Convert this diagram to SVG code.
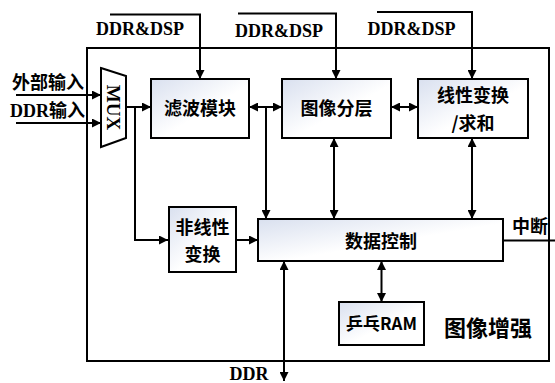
<svg xmlns="http://www.w3.org/2000/svg" width="555" height="383" viewBox="0 0 555 383">
<style>
.box{fill:url(#g);stroke:#000;stroke-width:2}
.sh{fill:#c8c8c8}
.ln{fill:none;stroke:#000;stroke-width:2}
.cn{font-family:"Noto Sans CJK SC","Noto Sans",sans-serif;font-weight:bold;font-size:18px;fill:#000}
.sf{font-family:"Liberation Serif","Noto Sans CJK SC",serif;font-weight:bold;font-size:18px;fill:#000}
.mid{text-anchor:middle}
</style>
<defs>
<linearGradient id="g" x1="0" y1="0" x2="1" y2="1">
<stop offset="0" stop-color="#d9e0ef"/>
<stop offset="0.55" stop-color="#ffffff"/>
<stop offset="1" stop-color="#ffffff"/>
</linearGradient>
<marker id="a" viewBox="0 0 10 10" refX="10" refY="5" markerWidth="4.5" markerHeight="4.5" orient="auto-start-reverse" markerUnits="strokeWidth">
<path d="M0,0 L10,5 L0,10 z" fill="#000"/>
</marker>
</defs>
<rect x="0" y="0" width="555" height="383" fill="#fff"/>
<g id="frame">
<rect x="87" y="48" width="462" height="313" class="ln"/>
<text x="488" y="336" class="cn mid" style="font-size:22px">图像增强</text>
</g>
<g id="connectors">
<path d="M110,14.5 H200 V79" class="ln" marker-end="url(#a)"/>
<path d="M238,13.5 H336 V79" class="ln" marker-end="url(#a)"/>
<path d="M377,12 H472 V79" class="ln" marker-end="url(#a)"/>
<path d="M16,95 H101" class="ln" marker-end="url(#a)"/>
<path d="M16,123 H101" class="ln" marker-end="url(#a)"/>
<path d="M126,107 H151" class="ln" marker-end="url(#a)"/>
<path d="M135,107 V240 H168" class="ln" marker-end="url(#a)"/>
<path d="M236,240 H258" class="ln" marker-end="url(#a)"/>
<path d="M249,107 H282" class="ln" marker-start="url(#a)" marker-end="url(#a)"/>
<path d="M266,107 V219" class="ln" marker-end="url(#a)"/>
<path d="M391,107 H418" class="ln" marker-start="url(#a)" marker-end="url(#a)"/>
<path d="M334,138 V219" class="ln" marker-start="url(#a)" marker-end="url(#a)"/>
<path d="M472,138 V219" class="ln" marker-start="url(#a)" marker-end="url(#a)"/>
<path d="M381.5,261 V302" class="ln" marker-start="url(#a)" marker-end="url(#a)"/>
<path d="M284,261 V381" class="ln" marker-start="url(#a)" marker-end="url(#a)"/>
<path d="M503,240.5 H555" class="ln"/>
<text x="140" y="35" class="sf mid">DDR&amp;DSP</text>
<text x="279" y="37" class="sf mid">DDR&amp;DSP</text>
<text x="411.5" y="35" class="sf mid">DDR&amp;DSP</text>
<text x="12" y="89" class="cn">外部输入</text>
<text x="10" y="117" class="sf">DDR<tspan class="cn">输入</tspan></text>
<text x="530" y="233" class="cn mid">中断</text>
<text x="249" y="380" class="sf mid">DDR</text>
</g>
<g id="mux">
<polygon points="101,68 126,76 126,138 101,147" class="ln" style="fill:#fff"/>
<text transform="translate(113.5,107.5) rotate(90)" class="sf mid" style="font-size:19px" dy="6.5">MUX</text>
</g>
<g id="filter">
<rect x="152" y="80" width="98" height="59" class="sh"/>
<rect x="151" y="79" width="98" height="59" class="box"/>
<text x="200" y="115" class="cn mid">滤波模块</text>
</g>
<g id="layer">
<rect x="283" y="80" width="109" height="59" class="sh"/>
<rect x="282" y="79" width="109" height="59" class="box"/>
<text x="336.5" y="115" class="cn mid">图像分层</text>
</g>
<g id="linear">
<rect x="419" y="80" width="110" height="59" class="sh"/>
<rect x="418" y="79" width="110" height="59" class="box"/>
<text x="473" y="102" class="cn mid">线性变换</text>
<text x="473" y="130" class="cn mid">/求和</text>
</g>
<g id="nonlinear">
<rect x="170" y="208" width="67" height="65" class="sh"/>
<rect x="169" y="207" width="67" height="65" class="box"/>
<text x="202.5" y="234" class="cn mid">非线性</text>
<text x="202.5" y="261" class="cn mid">变换</text>
</g>
<g id="datactrl">
<rect x="259" y="220" width="245" height="42" class="sh"/>
<rect x="258" y="219" width="245" height="42" class="box"/>
<text x="381" y="248" class="cn mid">数据控制</text>
</g>
<g id="ram">
<rect x="340" y="303" width="85" height="43" class="sh"/>
<rect x="339" y="302" width="85" height="43" class="box"/>
<text x="381.5" y="330" class="cn mid" style="font-size:17px">乒乓RAM</text>
</g>
</svg>
